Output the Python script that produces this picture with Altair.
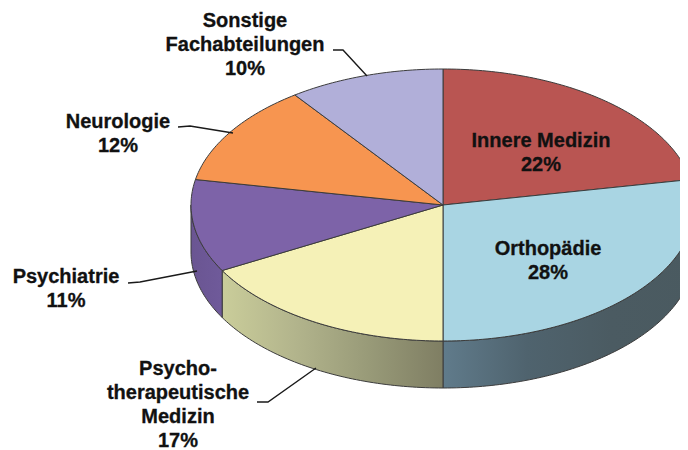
import math
import altair as alt

# ---- data ----
categories = ["Innere Medizin", "Orthopädie", "Psychotherapeutische Medizin",
              "Psychiatrie", "Neurologie", "Sonstige Fachabteilungen"]
shares = [22, 28, 17, 11, 12, 10]
slice_colors = ["#b95552", "#a9d5e3", "#f5f1b7", "#7d63a8", "#f79550", "#b1afd9"]
label_lines = [
    ["Innere Medizin", "22%"],
    ["Orthopädie", "28%"],
    ["Psycho-", "therapeutische", "Medizin", "17%"],
    ["Psychiatrie", "11%"],
    ["Neurologie", "12%"],
    ["Sonstige", "Fachabteilungen", "10%"],
]

# ---- layout (pixels inside the chart) ----
W, H = 672, 442
CX, CY, RX, RY, DEPTH = 435, 197, 252, 136, 47
LABEL_CENTERS = [(533, 133), (540, 241), (170, 361), (58, 269), (110, 114), (237, 13)]
LINE_STEP = 24
LEADERS = {
    "Sonstige": [(325, 42), (335, 42), (359, 68)],
    "Neurologie": [(170, 119), (182, 118), (225, 125)],
    "Psychiatrie": [(120, 275), (132, 274), (189, 263)],
    "Psycho": [(249, 394), (260, 394), (308, 360)],
}
WALL_GRADIENTS = {
    1: ["#607b8b", "#4f636e", "#4b5b62", "#4a5a60"],
    2: ["#cacd9a", "#b2b48c", "#989a78", "#7f7e63"],
    3: ["#6a5592", "#6f5a9a"],
}


def point(deg, dy=0):
    a = math.radians(deg)
    return [CX + RX * math.sin(a), CY - RY * math.cos(a) + dy]


def arc(a0, a1, dy=0):
    n = max(2, int(abs(a1 - a0)))
    return [point(a0 + (a1 - a0) * i / n, dy) for i in range(n + 1)]


def feature(coords, name):
    return {"type": "Feature", "properties": {"name": name},
            "geometry": {"type": "Polygon", "coordinates": [coords + [coords[0]]]}}


def geo_data(features):
    return alt.Data(values={"type": "FeatureCollection", "features": features},
                    format=alt.DataFormat(property="features", type="json"))


PROJ = dict(type="identity", scale=1, translate=[0, 0])

bounds = [0]
for s in shares:
    bounds.append(bounds[-1] + s * 3.6)

layers = []
# side walls
for i in sorted(WALL_GRADIENTS):
    a0, a1 = max(bounds[i], 90), min(bounds[i + 1], 270)
    poly = arc(a0, a1) + arc(a1, a0, DEPTH)
    stops = WALL_GRADIENTS[i]
    grad = alt.LinearGradient(
        gradient="linear", x1=0, y1=0, x2=1, y2=0,
        stops=[alt.GradientStop(offset=k / (len(stops) - 1), color=c) for k, c in enumerate(stops)],
    )
    layers.append(
        alt.Chart(geo_data([feature(poly, categories[i])]))
        .mark_geoshape(fill=grad, stroke="#3c3c3c", strokeWidth=1)
        .project(**PROJ)
    )

# top surface
top = []
for i, name in enumerate(categories):
    top.append(feature([[CX, CY]] + arc(bounds[i], bounds[i + 1]), name))
layers.append(
    alt.Chart(geo_data(top))
    .mark_geoshape(stroke="#3c3c3c", strokeWidth=1)
    .encode(color=alt.Color("properties.name:N", legend=None,
                            scale=alt.Scale(domain=categories, range=slice_colors)))
    .project(**PROJ)
)

# leader lines
leader_rows = [{"k": k, "o": j, "x": p[0], "y": p[1]}
               for k, pts in LEADERS.items() for j, p in enumerate(pts)]
layers.append(
    alt.Chart(alt.Data(values=leader_rows))
    .mark_line(color="#1a1a1a", strokeWidth=1.4)
    .encode(x=alt.X("x:Q", scale=None), y=alt.Y("y:Q", scale=None),
            detail="k:N", order="o:Q")
)

# labels
text_rows = []
for lines, (lx, ly) in zip(label_lines, LABEL_CENTERS):
    for j, t in enumerate(lines):
        text_rows.append({"t": t, "x": lx, "y": ly + j * LINE_STEP})
layers.append(
    alt.Chart(alt.Data(values=text_rows))
    .mark_text(font="Liberation Sans", fontWeight="bold", fontSize=20, color="#111111",
               stroke="#111111", strokeWidth=0.3, align="center", baseline="middle")
    .encode(x=alt.X("x:Q", scale=None), y=alt.Y("y:Q", scale=None), text="t:N")
)

chart = (
    alt.layer(*layers)
    .properties(width=W, height=H, padding=0, autosize=alt.AutoSizeParams(type="none"))
    .configure_view(stroke=None)
    .configure_axis(disable=True)
)
chart.save("out.html", embed_options={"renderer": "svg", "actions": False})
